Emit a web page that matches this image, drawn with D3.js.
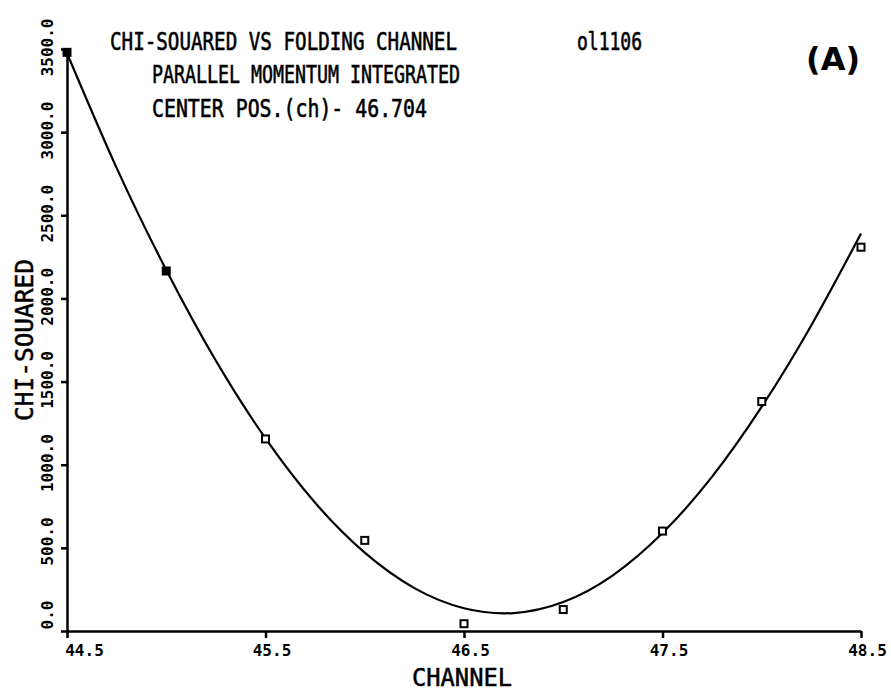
<!DOCTYPE html>
<html>
<head>
<meta charset="utf-8">
<script src="https://cdn.jsdelivr.net/npm/d3@7"></script>
<style>
  body { margin: 0; background: #fff; }
  text { font-family: "DejaVu Sans Mono", monospace; fill: #000; }
</style>
</head>
<body>
<div id="chart"></div>
<script>
// measured chi-squared per folding channel
const channels = [44.5, 45.0, 45.5, 46.0, 46.5, 47.0, 47.5, 48.0, 48.5];
const chiSquared = [3480, 2165, 1155, 545, 44, 129, 601, 1380, 2308];
const solidChannels = [44.5, 45.0];

// fitted curve, every quarter channel
const fitChannels = [44.5, 44.75, 45.0, 45.25, 45.5, 45.75, 46.0, 46.25, 46.5, 46.75, 47.0, 47.25, 47.5, 47.75, 48.0, 48.25, 48.5];
const fitChi = [3475, 2785, 2171, 1625, 1158, 771, 471, 258, 137, 108, 174, 335, 589, 928, 1349, 1839, 2390];

const xTicks = [44.5, 45.5, 46.5, 47.5, 48.5];
const yTicks = [0, 500, 1000, 1500, 2000, 2500, 3000, 3500];

const titleLines = ["CHI-SOUARED VS FOLDING CHANNEL", "PARALLEL MOMENTUM INTEGRATED", "CENTER POS.(ch)- 46.704"];

function draw() {
  const dimensions = { width: 891, height: 691 };

  const x = d3.scaleLinear().domain([44.5, 48.5]).range([67, 861]);
  const y = d3.scaleLinear().domain([0, 3500]).range([631, 49]);

  const svg = d3.select("#chart")
    .append("svg")
    .attr("width", dimensions.width)
    .attr("height", dimensions.height);

  svg.append("rect")
    .attr("width", dimensions.width)
    .attr("height", dimensions.height)
    .attr("fill", "#fff");

  // axes
  const yAxis = svg.append("g")
    .attr("transform", `translate(${x.range()[0]},0)`)
    .call(d3.axisLeft(y).tickValues(yTicks).tickSize(6).tickSizeOuter(0).tickFormat(d3.format(".1f")));

  // labels read upward and end a little above their tick
  yAxis.selectAll("text")
    .attr("transform", "rotate(-90)")
    .attr("x", 31)
    .attr("y", -14)
    .attr("dy", 0)
    .attr("text-anchor", "end")
    .attr("font-family", "DejaVu Sans Mono, monospace")
    .style("font-size", "16px")
    .style("font-weight", "bold");

  const xAxis = svg.append("g")
    .attr("transform", `translate(0,${y.range()[0]})`)
    .call(d3.axisBottom(x).tickValues(xTicks).tickSize(7).tickSizeOuter(0).tickFormat(d3.format(".1f")));

  xAxis.selectAll("text")
    .attr("y", 14)
    .attr("dx", d => d === 44.5 ? 17 : 6)
    .attr("font-family", "DejaVu Sans Mono, monospace")
    .style("font-size", "16px")
    .style("font-weight", "bold");

  svg.selectAll(".domain, .tick line")
    .attr("stroke", "#000")
    .attr("stroke-width", 2.5);

  // fitted curve
  const line = d3.line()
    .x((d, i) => x(fitChannels[i]))
    .y(d => y(d))
    .curve(d3.curveNatural);

  svg.append("path")
    .datum(fitChi)
    .attr("fill", "none")
    .attr("stroke", "#000")
    .attr("stroke-width", 2.2)
    .attr("d", line);

  // data points
  const size = 7;
  svg.append("g")
    .selectAll("rect")
    .data(channels)
    .join("rect")
    .attr("x", d => x(d) - size / 2)
    .attr("y", (d, i) => y(chiSquared[i]) - size / 2)
    .attr("width", size)
    .attr("height", size)
    .attr("fill", d => solidChannels.includes(d) ? "#000" : "#fff")
    .attr("stroke", "#000")
    .attr("stroke-width", 2);

  // titles
  const titleX = [110, 152, 152];
  const titleY = [50, 83, 117];
  const titleW = [347, 308, 275];
  svg.append("g")
    .selectAll("text")
    .data(titleLines)
    .join("text")
    .attr("x", (d, i) => titleX[i])
    .attr("y", (d, i) => titleY[i])
    .attr("textLength", (d, i) => titleW[i])
    .attr("lengthAdjust", "spacingAndGlyphs")
    .attr("stroke", "#000")
    .attr("stroke-width", 0.6)
    .style("font-size", "24px")
    .text(d => d);

  svg.append("text")
    .attr("x", 577)
    .attr("y", 50)
    .attr("textLength", 65)
    .attr("lengthAdjust", "spacingAndGlyphs")
    .attr("stroke", "#000")
    .attr("stroke-width", 0.6)
    .style("font-size", "24px")
    .text("ol1106");

  svg.append("text")
    .attr("x", 806)
    .attr("y", 70)
    .style("font-family", "DejaVu Sans, sans-serif")
    .style("font-size", "32px")
    .style("font-weight", "bold")
    .text("(A)");

  // axis titles
  svg.append("text")
    .attr("x", 462)
    .attr("y", 686)
    .attr("text-anchor", "middle")
    .attr("textLength", 100)
    .attr("lengthAdjust", "spacingAndGlyphs")
    .attr("stroke", "#000")
    .attr("stroke-width", 0.5)
    .style("font-size", "24px")
    .text("CHANNEL");

  svg.append("text")
    .attr("transform", "translate(33,340) rotate(-90)")
    .attr("text-anchor", "middle")
    .attr("textLength", 162)
    .attr("lengthAdjust", "spacingAndGlyphs")
    .attr("stroke", "#000")
    .attr("stroke-width", 0.5)
    .style("font-size", "24px")
    .text("CHI-SOUARED");
}
draw();
</script>
</body>
</html>
